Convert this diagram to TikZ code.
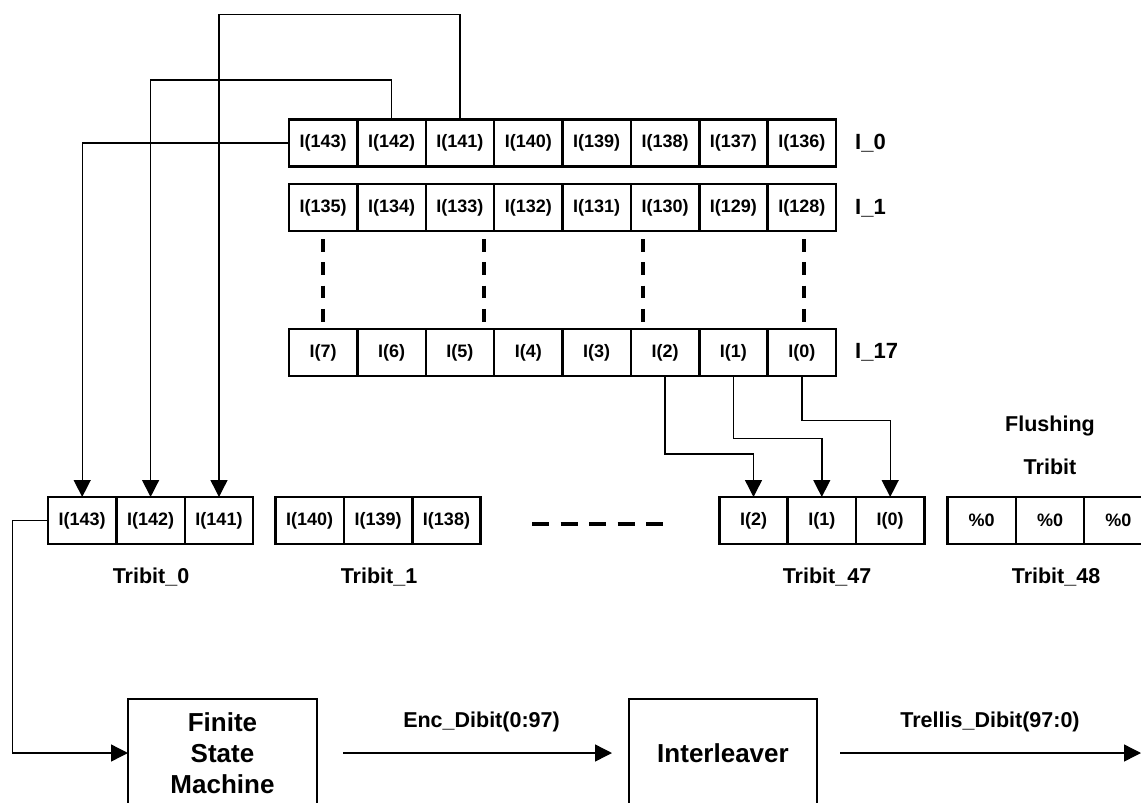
\documentclass[tikz,border=0pt]{standalone}
\usepackage{fontspec}
\setmainfont{Liberation Sans}
\usetikzlibrary{arrows.meta}
\begin{document}
\begin{tikzpicture}[x=1pt,y=-1pt,
 cell/.style={draw, line width=2.5pt, minimum width=68.4pt, minimum height=47pt, inner sep=0pt, outer sep=0pt, font=\fontsize{18}{18}\selectfont\bfseries},
 lbl/.style={font=\fontsize{21.5}{21.5}\selectfont\bfseries, inner sep=0pt},
 rowlbl/.style={font=\fontsize{22}{22}\selectfont\bfseries, inner sep=0pt, anchor=west},
 conn/.style={line width=1.4pt, -{Triangle[length=17pt,width=17pt]}},
 vdash/.style={line width=4pt, dash pattern=on 12.7pt off 10.6pt},
 hdash/.style={line width=4pt, dash pattern=on 17pt off 11.5pt},
 block/.style={draw, line width=2pt, inner sep=0pt, outer sep=0pt, minimum height=108pt, font=\fontsize{26}{31}\selectfont\bfseries, align=center}
]
\useasboundingbox (0,0) rectangle (1141,803);
% rows
\foreach \i in {1,...,8} {
  \pgfmathtruncatemacro\va{144-\i}
  \pgfmathtruncatemacro\vb{136-\i}
  \pgfmathtruncatemacro\vc{8-\i}
  \node[cell, anchor=west] (a\i) at ({289+(\i-1)*68.375},143) {I(\va)};
  \node[cell, anchor=west] (b\i) at ({289+(\i-1)*68.375},207.7) {I(\vb)};
  \node[cell, anchor=west] (c\i) at ({289+(\i-1)*68.375},352.5) {I(\vc)};
}
\node[rowlbl] (L0) at (855,143) {I\_0};
\node[rowlbl] (L1) at (855,208) {I\_1};
\node[rowlbl] (L17) at (855,352.5) {I\_17};
% vertical dashes
\foreach \x in {323,484,643,804} \draw[vdash] (\x,239) -- (\x,322);
% tribits
\node[cell, anchor=west] (t0a) at (48,520.5) {I(143)};
\node[cell, anchor=west] (t0b) at (116.4,520.5) {I(142)};
\node[cell, anchor=west] (t0c) at (184.8,520.5) {I(141)};
\node[cell, anchor=west] (t1a) at (275.5,520.5) {I(140)};
\node[cell, anchor=west] (t1b) at (343.9,520.5) {I(139)};
\node[cell, anchor=west] (t1c) at (412.3,520.5) {I(138)};
\node[cell, anchor=west] (t47a) at (719.3,520.5) {I(2)};
\node[cell, anchor=west] (t47b) at (787.6,520.5) {I(1)};
\node[cell, anchor=west] (t47c) at (856,520.5) {I(0)};
\node[cell, anchor=west] (t48a) at (947.5,520.5) {\%0};
\node[cell, anchor=west] (t48b) at (1015.8,520.5) {\%0};
\node[cell, anchor=west] (t48c) at (1084.2,520.5) {\%0};
\draw[hdash] (532,523.5) -- (663,523.5);
\node[lbl] (T0) at (151,577) {Tribit\_0};
\node[lbl] (T1) at (379,577) {Tribit\_1};
\node[lbl] (T47) at (827,577) {Tribit\_47};
\node[lbl] (T48) at (1056,577) {Tribit\_48};
\node[lbl] (F1) at (1050,426) {Flushing};
\node[lbl] (F2) at (1050,467) {Tribit};
% connectors top
\draw[conn] (a1.west) -| (t0a.north);
\draw[conn] (a2.north) -- ++(0,-39.5) -| (t0b.north);
\draw[conn] (a3.north) -- ++(0,-105) -| (t0c.north);
% connectors bottom
\draw[conn] (c6.south) -- ++(0,78) -| (t47a.north);
\draw[conn] (c7.south) -- ++(0,62.7) -| (t47b.north);
\draw[conn] (c8.south) -- ++(0,44.7) -| (t47c.north);
% blocks
\node[block, minimum width=189pt, anchor=north west] (fsm) at (128,699) {Finite\\State\\Machine};
\node[block, minimum width=188pt, anchor=north west] (il) at (629,699) {Interleaver};
\draw[conn] (t0a.west) -- ++(-35.5,0) |- (fsm.west);
\draw[conn] ([xshift=26pt]fsm.east) -- ([xshift=-17pt]il.west);
\coordinate (out) at (1141,753);
\draw[conn] ([xshift=23pt]il.east) -- (out);
\node[lbl] (enc) at (481.5,722) {Enc\_Dibit(0:97)};
\node[lbl] (trel) at (990,722) {Trellis\_Dibit(97:0)};
\end{tikzpicture}
\end{document}
